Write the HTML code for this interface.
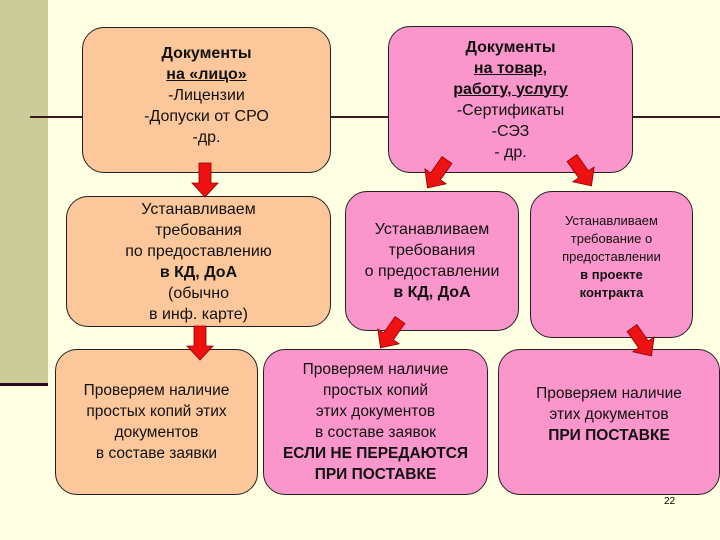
<!DOCTYPE html>
<html><head><meta charset="utf-8"><style>
body{margin:0;width:720px;height:540px;background:#ffffe3;position:relative;overflow:hidden;font-family:"Liberation Sans",sans-serif;}
.b{position:absolute;border:1.3px solid #222;border-radius:22px;box-sizing:border-box;display:flex;flex-direction:column;justify-content:center;align-items:center;text-align:center;color:#111;}
.o{background:#fcc89b}.p{background:#fa96cc}
b{font-weight:bold}
</style></head><body>
<div style="position:absolute;left:0;top:0;width:48px;height:384px;background:#cccc9a"></div>
<div style="position:absolute;left:0;top:383px;width:48px;height:3px;background:#2a0a20"></div>
<div style="position:absolute;left:30px;top:116px;width:690px;height:2px;background:#3a1a20"></div>
<div class="b o" style="left:82px;top:27px;width:249px;height:146px;font-size:16px;line-height:21px;padding-bottom:10px">
<b>Документы</b><b><u>на «лицо»</u></b><span>-Лицензии</span><span>-Допуски от СРО</span><span>-др.</span></div>
<div class="b p" style="left:388px;top:26px;width:245px;height:147px;font-size:16px;line-height:21px">
<b>Документы</b><b><u>на товар,</u></b><b><u>работу, услугу</u></b><span>-Сертификаты</span><span>-СЭЗ</span><span>- др.</span></div>
<div class="b o" style="left:66px;top:196px;width:265px;height:131px;font-size:16px;line-height:21px">
<span>Устанавливаем</span><span>требования</span><span>по предоставлению</span><b>в КД, ДоА</b><span>(обычно</span><span>в инф. карте)</span></div>
<div class="b p" style="left:345px;top:191px;width:174px;height:140px;font-size:16px;line-height:21px">
<span>Устанавливаем</span><span>требования</span><span>о предоставлении</span><b>в КД, ДоА</b></div>
<div class="b p" style="left:530px;top:191px;width:163px;height:147px;font-size:13px;line-height:18px;padding-bottom:16px">
<span>Устанавливаем</span><span>требование о</span><span>предоставлении</span><b>в проекте</b><b>контракта</b></div>
<div class="b o" style="left:55px;top:349px;width:203px;height:146px;font-size:15.5px;line-height:21px">
<span>Проверяем наличие</span><span>простых копий этих</span><span>документов</span><span>в составе заявки</span></div>
<div class="b p" style="left:263px;top:349px;width:225px;height:146px;font-size:15.5px;line-height:21px">
<span>Проверяем наличие</span><span>простых копий</span><span>этих документов</span><span>в составе заявок</span><b>ЕСЛИ НЕ ПЕРЕДАЮТСЯ</b><b>ПРИ ПОСТАВКЕ</b></div>
<div class="b p" style="left:498px;top:349px;width:222px;height:146px;font-size:15.5px;line-height:21px;padding-bottom:16px">
<span>Проверяем наличие</span><span>этих документов</span><b>ПРИ ПОСТАВКЕ</b></div>
<div style="position:absolute;left:664px;top:496px;font-size:10px">22</div>
<svg width="720" height="540" style="position:absolute;left:0;top:0">
<defs><polygon id="a" points="-6,0 6,0 6,20 13,20 0,34 -13,20 -6,20" fill="#ee1111" stroke="#8a0000" stroke-width="0.8"/></defs>
<use href="#a" transform="translate(205,163)"/>
<use href="#a" transform="translate(200,326)"/>
<use href="#a" transform="translate(447,160) rotate(35)"/>
<use href="#a" transform="translate(572,158) rotate(-35)"/>
<use href="#a" transform="translate(400,320) rotate(35)"/>
<use href="#a" transform="translate(632,328) rotate(-35)"/>
</svg>
</body></html>
